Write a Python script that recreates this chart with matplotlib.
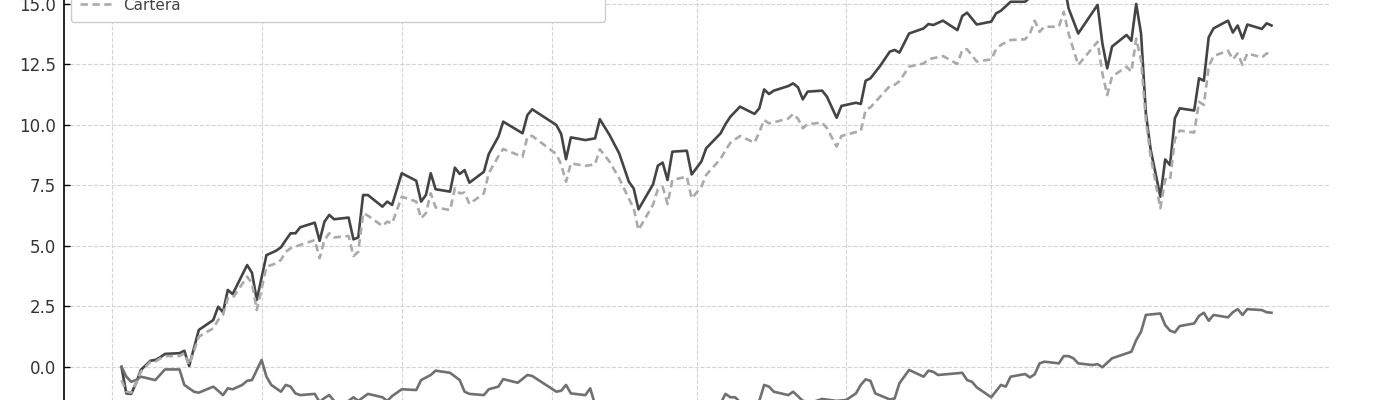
import matplotlib
matplotlib.use("Agg")
import matplotlib.pyplot as plt
from matplotlib.ticker import MultipleLocator, FormatStrFormatter
import pandas as pd

# ---- data (cumulative return, %) ----
dates_main = [
    "2024-01-03", "2024-01-04", "2024-01-05", "2024-01-06", "2024-01-07", "2024-01-09", "2024-01-10",
    "2024-01-11", "2024-01-12", "2024-01-15", "2024-01-16", "2024-01-17", "2024-01-19", "2024-01-22",
    "2024-01-23", "2024-01-24", "2024-01-25", "2024-01-26", "2024-01-29", "2024-01-30", "2024-01-31",
    "2024-02-02", "2024-02-04", "2024-02-05", "2024-02-06", "2024-02-07", "2024-02-08", "2024-02-09",
    "2024-02-12", "2024-02-13", "2024-02-14", "2024-02-15", "2024-02-16", "2024-02-19", "2024-02-20",
    "2024-02-21", "2024-02-22", "2024-02-23", "2024-02-26", "2024-02-27", "2024-02-28", "2024-03-01",
    "2024-03-04", "2024-03-05", "2024-03-06", "2024-03-07", "2024-03-08", "2024-03-11", "2024-03-12",
    "2024-03-13", "2024-03-14", "2024-03-15", "2024-03-18", "2024-03-19", "2024-03-21", "2024-03-22",
    "2024-03-26", "2024-03-27", "2024-03-28", "2024-04-02", "2024-04-03", "2024-04-04", "2024-04-05",
    "2024-04-08", "2024-04-10", "2024-04-11", "2024-04-13", "2024-04-15", "2024-04-17", "2024-04-18",
    "2024-04-19", "2024-04-22", "2024-04-23", "2024-04-24", "2024-04-25", "2024-04-26", "2024-04-29",
    "2024-04-30", "2024-05-02", "2024-05-03", "2024-05-06", "2024-05-07", "2024-05-08", "2024-05-10",
    "2024-05-13", "2024-05-14", "2024-05-15", "2024-05-16", "2024-05-17", "2024-05-20", "2024-05-21",
    "2024-05-22", "2024-05-23", "2024-05-24", "2024-05-27", "2024-05-28", "2024-05-30", "2024-05-31",
    "2024-06-03", "2024-06-04", "2024-06-05", "2024-06-06", "2024-06-08", "2024-06-10", "2024-06-11",
    "2024-06-12", "2024-06-14", "2024-06-17", "2024-06-18", "2024-06-19", "2024-06-21", "2024-06-24",
    "2024-06-25", "2024-06-26", "2024-06-28", "2024-07-01", "2024-07-02", "2024-07-03", "2024-07-05",
    "2024-07-08", "2024-07-09", "2024-07-10", "2024-07-11", "2024-07-12", "2024-07-15", "2024-07-16",
    "2024-07-17", "2024-07-19", "2024-07-23", "2024-07-24", "2024-07-25", "2024-07-26", "2024-07-29",
    "2024-07-30", "2024-07-31", "2024-08-01", "2024-08-02", "2024-08-03", "2024-08-05", "2024-08-06",
    "2024-08-07", "2024-08-08", "2024-08-09", "2024-08-12", "2024-08-13", "2024-08-14", "2024-08-15",
    "2024-08-16", "2024-08-19", "2024-08-20", "2024-08-21", "2024-08-22", "2024-08-23", "2024-08-26",
    "2024-08-27", "2024-08-28",
]

benchmark = [
    0.00, -1.09, -1.11, -0.67, -0.12, 0.26, 0.29,
    0.40, 0.54, 0.57, 0.67, 0.04, 1.53, 1.94,
    2.49, 2.26, 3.18, 3.01, 4.21, 3.89, 2.77,
    4.62, 4.80, 4.94, 5.24, 5.52, 5.52, 5.77,
    5.96, 5.21, 6.00, 6.28, 6.10, 6.17, 5.27,
    5.35, 7.10, 7.10, 6.62, 6.83, 6.69, 8.00,
    7.69, 6.83, 7.10, 8.00, 7.34, 7.24, 8.23,
    7.97, 8.13, 7.61, 8.06, 8.79, 9.51, 10.13,
    9.65, 10.40, 10.64, 9.99, 9.62, 8.58, 9.48,
    9.37, 9.44, 10.23, 9.58, 8.82, 7.65, 7.37,
    6.51, 7.54, 8.31, 8.44, 7.72, 8.89, 8.93,
    7.95, 8.48, 9.03, 9.65, 10.03, 10.33, 10.75,
    10.45, 10.68, 11.46, 11.27, 11.41, 11.60, 11.71,
    11.55, 11.05, 11.37, 11.41, 11.16, 10.29, 10.78,
    10.91, 10.86, 11.82, 11.92, 12.43, 13.02, 13.09,
    12.98, 13.77, 13.98, 14.16, 14.12, 14.30, 13.91,
    14.49, 14.63, 14.14, 14.26, 14.60, 14.71, 15.08,
    15.08, 15.25, 15.55, 15.45, 15.65, 15.60, 15.95,
    14.81, 13.77, 14.95, 13.36, 12.33, 13.23, 13.71,
    13.47, 14.99, 13.77, 10.47, 8.96, 7.03, 8.57,
    8.34, 10.27, 10.68, 10.59, 11.92, 11.82, 13.61,
    13.98, 14.30, 13.81, 14.10, 13.56, 14.14, 13.96,
    14.19, 14.10,
]

cartera = [
    -0.54, -1.02, -1.06, -0.67, -0.19, 0.22, 0.22,
    0.35, 0.45, 0.45, 0.57, 0.08, 1.25, 1.60,
    1.94, 2.15, 2.84, 2.84, 3.73, 3.46, 2.35,
    4.14, 4.28, 4.42, 4.76, 4.90, 4.97, 5.04,
    5.24, 4.49, 5.24, 5.52, 5.35, 5.41, 4.58,
    4.76, 6.35, 6.25, 5.82, 6.00, 5.93, 7.03,
    6.83, 6.14, 6.35, 7.17, 6.59, 6.48, 7.38,
    7.17, 7.20, 6.73, 7.17, 8.00, 8.70, 9.00,
    8.68, 9.51, 9.54, 8.79, 8.35, 7.65, 8.41,
    8.30, 8.37, 8.99, 8.48, 7.79, 6.95, 6.55,
    5.66, 6.70, 7.34, 7.44, 6.73, 7.72, 7.86,
    6.96, 7.44, 7.93, 8.60, 8.95, 9.25, 9.54,
    9.26, 9.70, 10.20, 10.06, 10.10, 10.26, 10.45,
    10.25, 9.86, 10.03, 10.09, 9.86, 9.10, 9.54,
    9.70, 9.74, 10.61, 10.72, 11.16, 11.60, 11.65,
    11.80, 12.40, 12.53, 12.70, 12.75, 12.84, 12.51,
    13.09, 13.12, 12.61, 12.70, 13.12, 13.30, 13.50,
    13.53, 13.77, 14.30, 13.84, 14.05, 14.05, 14.67,
    13.77, 12.47, 13.43, 12.12, 11.23, 11.99, 12.40,
    12.19, 13.56, 12.68, 10.20, 8.68, 6.55, 7.75,
    7.72, 9.40, 9.76, 9.68, 10.95, 10.82, 12.40,
    12.84, 13.06, 12.70, 12.95, 12.47, 12.95, 12.78,
    12.95, 12.92,
]

dates_third = [
    "2024-01-03", "2024-01-04", "2024-01-05", "2024-01-06", "2024-01-07", "2024-01-10", "2024-01-12",
    "2024-01-15", "2024-01-16", "2024-01-18", "2024-01-19", "2024-01-22", "2024-01-23", "2024-01-24",
    "2024-01-25", "2024-01-26", "2024-01-28", "2024-01-29", "2024-01-30", "2024-02-01", "2024-02-02",
    "2024-02-03", "2024-02-05", "2024-02-06", "2024-02-07", "2024-02-08", "2024-02-09", "2024-02-12",
    "2024-02-13", "2024-02-14", "2024-02-15", "2024-02-16", "2024-02-17", "2024-02-19", "2024-02-20",
    "2024-02-21", "2024-02-23", "2024-02-26", "2024-02-27", "2024-02-28", "2024-03-01", "2024-03-04",
    "2024-03-05", "2024-03-07", "2024-03-08", "2024-03-11", "2024-03-13", "2024-03-14", "2024-03-15",
    "2024-03-18", "2024-03-19", "2024-03-21", "2024-03-22", "2024-03-25", "2024-03-27", "2024-03-28",
    "2024-04-02", "2024-04-03", "2024-04-04", "2024-04-05", "2024-04-08", "2024-04-09", "2024-04-10",
    "2024-04-11", "2024-04-13", "2024-04-15", "2024-04-17", "2024-04-19", "2024-04-22", "2024-04-24",
    "2024-04-26", "2024-04-29", "2024-04-30", "2024-05-02", "2024-05-03", "2024-05-06", "2024-05-07",
    "2024-05-08", "2024-05-09", "2024-05-10", "2024-05-11", "2024-05-13", "2024-05-14", "2024-05-15",
    "2024-05-16", "2024-05-17", "2024-05-20", "2024-05-21", "2024-05-22", "2024-05-23", "2024-05-25",
    "2024-05-27", "2024-05-30", "2024-06-01", "2024-06-03", "2024-06-04", "2024-06-05", "2024-06-06",
    "2024-06-07", "2024-06-10", "2024-06-11", "2024-06-12", "2024-06-14", "2024-06-17", "2024-06-18",
    "2024-06-19", "2024-06-20", "2024-06-25", "2024-06-26", "2024-06-27", "2024-06-28", "2024-07-01",
    "2024-07-03", "2024-07-04", "2024-07-05", "2024-07-08", "2024-07-09", "2024-07-10", "2024-07-11",
    "2024-07-12", "2024-07-15", "2024-07-16", "2024-07-17", "2024-07-18", "2024-07-19", "2024-07-22",
    "2024-07-23", "2024-07-24", "2024-07-26", "2024-07-30", "2024-07-31", "2024-08-01", "2024-08-02",
    "2024-08-05", "2024-08-06", "2024-08-07", "2024-08-08", "2024-08-09", "2024-08-12", "2024-08-13",
    "2024-08-14", "2024-08-15", "2024-08-16", "2024-08-19", "2024-08-20", "2024-08-21", "2024-08-22",
    "2024-08-23", "2024-08-26", "2024-08-27", "2024-08-28",
]

third = [
    0.01, -0.40, -0.61, -0.54, -0.40, -0.54, -0.10,
    -0.10, -0.74, -1.02, -1.06, -0.81, -0.98, -1.16,
    -0.88, -0.92, -0.74, -0.57, -0.54, 0.29, -0.40,
    -0.74, -1.02, -0.74, -0.81, -1.09, -1.16, -1.11,
    -1.45, -1.28, -1.16, -1.40, -1.55, -1.40, -1.25,
    -1.40, -1.11, -1.25, -1.40, -1.20, -0.92, -0.95,
    -0.54, -0.33, -0.15, -0.24, -0.54, -1.02, -1.11,
    -1.16, -0.92, -0.81, -0.50, -0.65, -0.33, -0.37,
    -1.02, -0.98, -0.74, -1.09, -1.16, -0.88, -1.55,
    -1.85, -1.70, -2.00, -2.15, -2.30, -2.10, -1.95,
    -1.75, -1.90, -2.05, -1.80, -1.65, -1.50, -1.11,
    -1.25, -1.25, -1.45, -1.55, -1.50, -1.40, -0.74,
    -0.81, -1.02, -1.16, -1.02, -1.21, -1.40, -1.45,
    -1.32, -1.40, -1.36, -1.09, -0.74, -0.51, -0.57,
    -1.09, -1.34, -1.30, -0.67, -0.12, -0.40, -0.15,
    -0.20, -0.33, -0.24, -0.54, -0.61, -0.84, -1.25,
    -0.74, -0.81, -0.40, -0.29, -0.43, -0.30, 0.15,
    0.22, 0.15, 0.45, 0.45, 0.36, 0.15, 0.08,
    0.12, -0.01, 0.36, 0.63, 1.11, 1.46, 2.15,
    2.21, 1.73, 1.50, 1.43, 1.69, 1.80, 2.11,
    2.24, 1.91, 2.15, 2.05, 2.26, 2.39, 2.15,
    2.39, 2.35, 2.26, 2.24,
]

month_ticks = ["2024-01-01", "2024-02-01", "2024-03-01", "2024-04-01",
               "2024-05-01", "2024-06-01", "2024-07-01"]

# ---- figure ----
W, H = 1400, 400
fig = plt.figure(figsize=(W / 100, H / 100), dpi=100)

ylim = (-2.4, 16.5)
px_per_unit = 24.22          # vertical scale of the visible (cropped) view
zero_from_bottom = 33        # pixel height of the 0-line above the bottom edge
ax_bottom = (zero_from_bottom + px_per_unit * ylim[0]) / H
ax_height = px_per_unit * (ylim[1] - ylim[0]) / H
ax = fig.add_axes([64 / W, ax_bottom, 1265 / W, ax_height])

dm = pd.to_datetime(dates_main)
dt = pd.to_datetime(dates_third)

ax.plot(dm, benchmark, color="#444444", lw=1.9, zorder=3)
ax.plot(dt, third, color="#707070", lw=1.9, zorder=3)
c_line, = ax.plot(dm, cartera, color="#aaaaaa", lw=1.9, ls=(0, (2.8, 1.7)),
                  label="Cartera", zorder=4)

ax.set_ylim(*ylim)
ax.yaxis.set_major_locator(MultipleLocator(2.5))
ax.yaxis.set_major_formatter(FormatStrFormatter("%.1f"))
ax.set_xticks(pd.to_datetime(month_ticks))
ax.tick_params(axis="x", labelbottom=False, length=0)
ax.tick_params(axis="y", direction="in", length=4, width=1, color="black",
               labelsize=12, labelcolor="#333333", pad=6)

ax.grid(True, ls="--", color="#d4d4d4", lw=0.8)
ax.set_axisbelow(True)

for s in ("top", "right", "bottom"):
    ax.spines[s].set_visible(False)
ax.spines["left"].set_color("black")
ax.spines["left"].set_linewidth(1.2)

leg = ax.legend(handles=[c_line], loc="lower left",
                bbox_to_anchor=(71 / W, 1 - 22 / H, 534 / W, 0),
                bbox_transform=fig.transFigure, mode="expand",
                borderaxespad=0, borderpad=0.6, fontsize=11, frameon=True,
                fancybox=True, edgecolor="#cccccc", framealpha=1.0)
for t in leg.get_texts():
    t.set_color("#444444")

fig.savefig("out.png", dpi=100)
